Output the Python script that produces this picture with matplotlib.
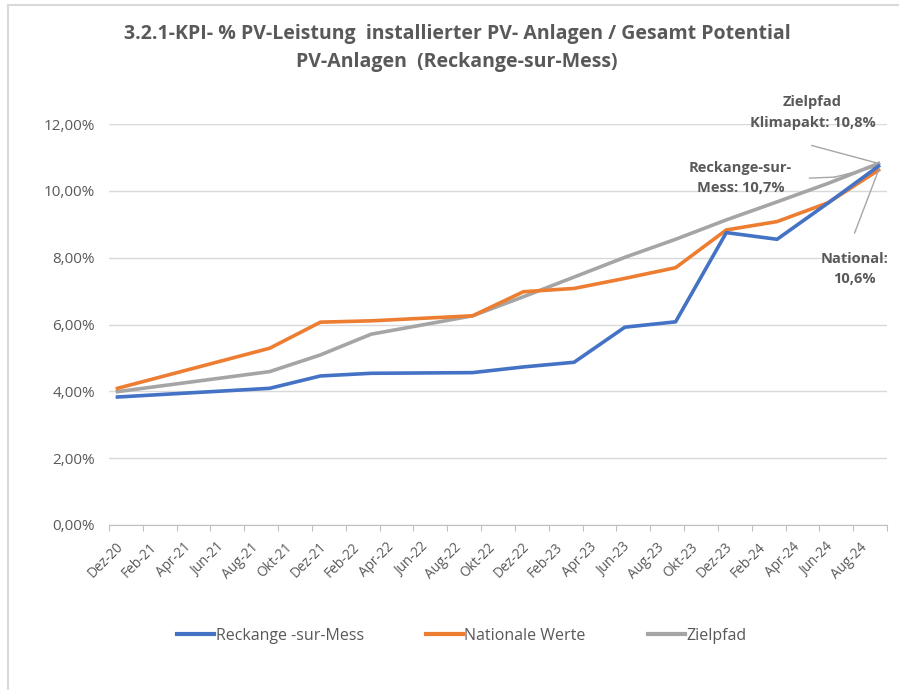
import matplotlib
matplotlib.use("Agg")
import matplotlib.pyplot as plt
from matplotlib.lines import Line2D
from matplotlib.ticker import FuncFormatter
import matplotlib.transforms as mtransforms

# ---------------- data ----------------
dates = ["Dez-20", "Sep-21", "Dez-21", "Mrz-22", "Sep-22", "Dez-22", "Mrz-23",
         "Jun-23", "Sep-23", "Dez-23", "Mrz-24", "Jun-24", "Sep-24"]
reckange = [3.83, 4.09, 4.46, 4.54, 4.56, 4.73, 4.87, 5.92, 6.08, 8.75, 8.55, 9.63, 10.74]
national = [4.09, 5.29, 6.07, 6.11, 6.26, 6.98, 7.08, 7.38, 7.70, 8.83, 9.08, 9.64, 10.62]
zielpfad = [3.99, 4.59, 5.09, 5.71, 6.26, 6.83, 7.42, 8.01, 8.55, 9.13, 9.67, 10.22, 10.82]

tick_labels = ["Dez-20", "Feb-21", "Apr-21", "Jun-21", "Aug-21", "Okt-21", "Dez-21",
               "Feb-22", "Apr-22", "Jun-22", "Aug-22", "Okt-22", "Dez-22", "Feb-23",
               "Apr-23", "Jun-23", "Aug-23", "Okt-23", "Dez-23", "Feb-24", "Apr-24",
               "Jun-24", "Aug-24"]
axis_end = "Okt-24"

series_names = ["Reckange -sur-Mess", "Nationale Werte", "Zielpfad"]
title = "3.2.1-KPI- % PV-Leistung  installierter PV- Anlagen / Gesamt Potential\nPV-Anlagen  (Reckange-sur-Mess)"
ann_ziel = "Zielpfad\nKlimapakt: 10,8%"
ann_reck = "Reckange-sur-\nMess: 10,7%"
ann_nat = "National:\n10,6%"

MONTHS = {"Jan": 0, "Feb": 1, "Mrz": 2, "Apr": 3, "Mai": 4, "Jun": 5, "Jul": 6,
          "Aug": 7, "Sep": 8, "Okt": 9, "Nov": 10, "Dez": 11}


def month_index(s):
    m, y = s.split("-")
    return (int(y) - 20) * 12 + MONTHS[m] - 11


# data points sit in the middle of their month slot (Excel date axis)
x = [month_index(d) + 0.5 for d in dates]

# ---------------- style ----------------
FONT = "Open Sans"
plt.rcParams["font.family"] = [FONT, "DejaVu Sans"]
TXT = "#595959"
BLUE, ORANGE, GRAY = "#4472C4", "#ED7D31", "#A5A5A5"

W, H = 899, 690
fig = plt.figure(figsize=(W / 100, H / 100), dpi=100)
fig.patch.set_facecolor("white")

L, R, T, B = 109, 887, 124, 525
ax = fig.add_axes([L / W, 1 - B / H, (R - L) / W, (B - T) / H])

lw = 2.6
ax.plot(x, reckange, color=BLUE, lw=lw, solid_joinstyle="round", zorder=4)
ax.plot(x, national, color=ORANGE, lw=lw, solid_joinstyle="round", zorder=3)
ax.plot(x, zielpfad, color=GRAY, lw=lw, solid_joinstyle="round", zorder=2)

ax.set_ylim(0, 12)
ax.set_yticks(range(0, 13, 2))
ax.yaxis.set_major_formatter(FuncFormatter(lambda v, p: f"{v:.2f}".replace(".", ",") + "%"))
ax.grid(axis="y", color="#D9D9D9", lw=1)
ax.set_axisbelow(True)

end = month_index(axis_end)
ax.set_xlim(0, end)
tpos = [month_index(t) for t in tick_labels]
ax.set_xticks(tpos + [end])
ax.set_xticklabels([])
# rotated date labels, placed like Excel does
off = mtransforms.ScaledTranslation(12 / 100, -20 / 100, fig.dpi_scale_trans)
trans = ax.get_xaxis_transform() + off
for p, lab in zip(tpos, tick_labels):
    ax.text(p, 0, lab, transform=trans, rotation=45, rotation_mode="anchor",
            ha="right", va="center", fontsize=9.8, color=TXT, clip_on=False)

for s in ["top", "right", "left"]:
    ax.spines[s].set_visible(False)
ax.spines["bottom"].set_color("#BFBFBF")
ax.tick_params(axis="x", colors="#BFBFBF", length=4)
ax.tick_params(axis="y", length=0, labelcolor=TXT, labelsize=11, pad=10)

# ---------------- title ----------------
fig.text(457 / W, 1 - 48 / H, title, ha="center", va="center", fontsize=14,
         fontweight="bold", color=TXT, linespacing=1.55)

# ---------------- annotations ----------------
xe = x[-1]
akw = dict(textcoords="offset pixels", ha="center", va="center", fontsize=10.5,
           fontweight="bold", color=TXT, linespacing=1.6, zorder=6)
ax.annotate(ann_ziel, xy=(xe, zielpfad[-1]), xytext=(-66, 51), **akw)
ax.annotate(ann_reck, xy=(xe, reckange[-1]), xytext=(-138, -12), **akw)
ax.annotate(ann_nat, xy=(xe, national[-1]), xytext=(-24, -99), **akw)

lkw = dict(textcoords="offset pixels",
           arrowprops=dict(arrowstyle="-", color="#A6A6A6", lw=1, shrinkA=0, shrinkB=0))
ax.annotate("", xy=(xe, zielpfad[-1]), xytext=(-67, 18), **lkw)
ax.annotate("", xy=(xe, reckange[-1]), xytext=(-44, -11), **lkw)
# short elbow segment of the Reckange leader
p_end = ax.transData.transform((xe, reckange[-1]))
seg = Line2D([p_end[0] - 69, p_end[0] - 44], [p_end[1] - 12, p_end[1] - 11],
             transform=None, color="#A6A6A6", lw=1)
fig.add_artist(seg)
ax.annotate("", xy=(xe, national[-1]), xytext=(-24, -63), **lkw)

# ---------------- legend ----------------
handles = [Line2D([], [], color=c, lw=3) for c in (BLUE, ORANGE, GRAY)]
fig.legend(handles, series_names, loc="center", bbox_to_anchor=(462 / W, 1 - 636 / H),
           ncol=3, frameon=False, fontsize=11.5, handlelength=2.3, handletextpad=0.1,
           columnspacing=3.9, labelcolor=TXT)

# ---------------- frame ----------------
fig.add_artist(Line2D([8 / W, 1], [1 - 5 / H, 1 - 5 / H], transform=fig.transFigure,
                      color="#D9D9D9", lw=1.5))
fig.add_artist(Line2D([8 / W, 8 / W], [0, 1 - 5 / H], transform=fig.transFigure,
                      color="#D9D9D9", lw=1.5))

fig.savefig("out.png", dpi=100)
